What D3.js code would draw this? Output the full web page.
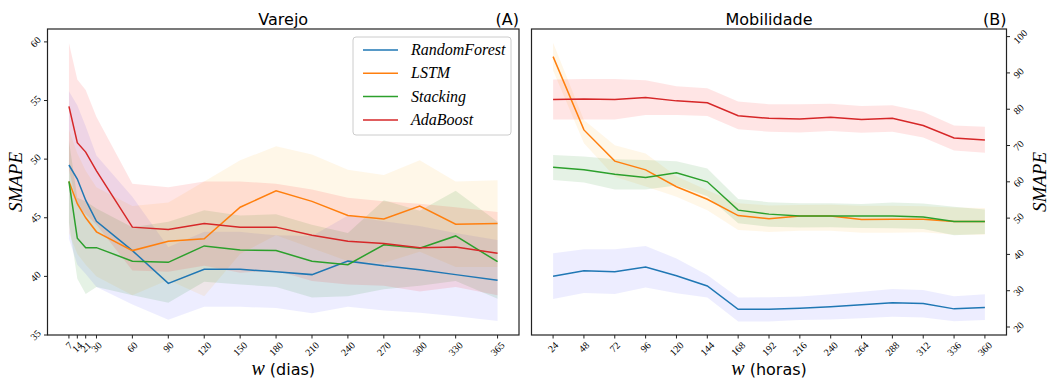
<!DOCTYPE html>
<html>
<head>
<meta charset="utf-8">
<script src="https://cdn.jsdelivr.net/npm/d3@7"></script>
<style>
body { margin: 0; background: #fff; }
svg { display: block; }
.tick-label { font-family: "Liberation Serif", "DejaVu Serif", serif; font-size: 10px; fill: #000; }
.title { font-family: "DejaVu Sans", sans-serif; font-size: 16px; fill: #000; }
.ylab { font-family: "Liberation Serif", serif; font-style: italic; font-size: 19px; }
.leg-text { font-family: "Liberation Serif", serif; font-style: italic; font-size: 16px; }
</style>
</head>
<body>
<svg id="chart" width="1052" height="380"></svg>
<script>

// ---- data: Varejo (dias)
var daysX = [7, 14, 21, 30, 60, 90, 120, 150, 180, 210, 240, 270, 300, 330, 365]
var dayTicks = daysX

var rfVar    = [49.5, 48.3, 46.5, 44.7, 42.2, 39.4, 40.6, 40.6, 40.4, 40.15, 41.3, 40.9, 40.57, 40.15, 39.67]
var rfVarHi  = [55.8, 54.6, 52.8, 50.3, 46.8, 42.5, 43.8, 43.8, 43.5, 43.45, 45.2, 44.7, 44.3, 43.7, 43.1]
var rfVarLo  = [43.2, 41.0, 40.2, 39.1, 37.6, 36.3, 37.4, 37.4, 37.3, 36.85, 37.4, 37.1, 36.9, 36.6, 36.2]

var lstmVar   = [48.1, 46.2, 45.0, 43.8, 42.2, 43.0, 43.2, 45.9, 47.3, 46.4, 45.2, 44.9, 46.0, 44.45, 44.5]
var lstmVarHi = [52.5, 50.5, 49.0, 47.6, 46.0, 46.3, 48.1, 49.9, 51.1, 50.4, 49.1, 48.65, 49.9, 48.1, 48.2]
var lstmVarLo = [43.7, 41.9, 41.0, 40.0, 38.4, 39.7, 38.3, 41.9, 43.5, 42.4, 41.3, 41.15, 42.1, 40.8, 40.8]

var stkVar   = [48.1, 43.25, 42.45, 42.45, 41.3, 41.2, 42.6, 42.25, 42.2, 41.3, 41.0, 42.7, 42.4, 43.45, 41.25]
var stkVarHi = [51.6, 46.7, 46.4, 45.8, 44.2, 44.65, 45.65, 45.2, 45.3, 44.4, 43.7, 46.5, 45.6, 47.3, 44.65]
var stkVarLo = [44.6, 39.8, 38.5, 39.1, 38.4, 37.75, 39.55, 39.3, 39.1, 38.2, 38.3, 38.9, 39.2, 39.6, 38.1]

var adaVar   = [54.5, 51.4, 50.6, 49.0, 44.2, 44.0, 44.5, 44.2, 44.2, 43.5, 43.0, 42.8, 42.45, 42.5, 41.97]
var adaVarHi = [59.9, 56.8, 55.9, 53.6, 47.9, 47.6, 48.1, 48.1, 47.9, 47.4, 46.7, 46.4, 46.2, 45.9, 45.5]
var adaVarLo = [49.1, 46.0, 45.3, 44.4, 40.5, 40.4, 40.9, 40.3, 40.5, 39.6, 39.3, 39.2, 38.7, 39.1, 38.4]

var varTicksY = [35, 40, 45, 50, 55, 60]

// ---- data: Mobilidade (horas)
var hoursX = [24, 48, 72, 96, 120, 144, 168, 192, 216, 240, 264, 288, 312, 336, 360]
var hourTicks = hoursX

var rfMob    = [34.0, 35.5, 35.2, 36.5, 34.1, 31.3, 24.9, 24.9, 25.2, 25.6, 26.1, 26.7, 26.5, 25.0, 25.4]
var rfMobHi  = [40.3, 41.4, 41.4, 42.3, 38.9, 34.3, 28.1, 28.2, 28.4, 29.0, 29.7, 30.5, 30.2, 28.5, 29.0]
var rfMobLo  = [27.7, 29.4, 29.1, 30.9, 29.3, 28.1, 21.5, 21.5, 21.9, 22.1, 22.4, 22.8, 22.6, 21.6, 21.9]

var lstmMob   = [94.5, 74.3, 65.7, 63.3, 58.65, 55.2, 50.7, 49.8, 50.6, 50.6, 49.6, 49.7, 49.7, 49.1, 49.1]
var lstmMobHi = [98.3, 77.0, 70.1, 67.8, 61.5, 57.7, 54.1, 53.5, 53.6, 53.7, 53.4, 53.4, 53.3, 52.9, 52.8]
var lstmMobLo = [90.7, 70.6, 61.4, 58.7, 55.9, 52.2, 46.7, 46.2, 46.5, 46.5, 46.0, 46.0, 46.1, 45.4, 45.4]

var stkMob   = [64.0, 63.3, 62.1, 61.2, 62.5, 60.0, 52.2, 51.1, 50.6, 50.6, 50.6, 50.6, 50.3, 49.1, 49.1]
var stkMobHi = [67.4, 67.0, 66.2, 66.0, 65.7, 63.7, 55.3, 54.4, 54.1, 54.1, 53.9, 54.3, 54.0, 53.1, 52.4]
var stkMobLo = [60.5, 59.8, 57.9, 57.9, 59.0, 56.0, 48.6, 47.6, 47.4, 47.5, 47.3, 47.2, 47.0, 45.3, 45.6]

var adaMob   = [82.7, 82.8, 82.7, 83.2, 82.3, 81.8, 78.2, 77.5, 77.3, 77.8, 77.2, 77.5, 75.5, 72.1, 71.5]
var adaMobHi = [88.2, 88.3, 88.3, 88.0, 86.3, 85.8, 82.1, 81.4, 81.4, 81.5, 80.9, 81.1, 79.3, 75.5, 75.2]
var adaMobLo = [77.2, 77.2, 77.2, 78.4, 78.4, 78.1, 74.5, 73.8, 73.6, 74.0, 73.5, 73.8, 72.2, 68.6, 68.0]

var mobTicksY = [20, 30, 40, 50, 60, 70, 80, 90, 100]

var models = ['RandomForest', 'LSTM', 'Stacking', 'AdaBoost']
var lineColors = ['#1f77b4', '#ff7f0e', '#2ca02c', '#d62728']
var bandColors = ['blue', 'orange', 'green', 'red']
var bandAlpha = [0.07, 0.09, 0.1, 0.1]

var svg = d3.select('#chart')

function panel(opts) {
  var g = svg.append('g')
  var x = d3.scaleLinear().domain(opts.xdom).range([opts.left, opts.right])
  var y = d3.scaleLinear().domain(opts.ydom).range([opts.bottom, opts.top])

  var area = d3.area()
    .x(function(d) { return x(d.x) })
    .y0(function(d) { return y(d.lo) })
    .y1(function(d) { return y(d.hi) })
  var line = d3.line()
    .x(function(d) { return x(d.x) })
    .y(function(d) { return y(d.v) })

  opts.series.forEach(function(s, i) {
    var pts = opts.xs.map(function(xv, j) { return {x: xv, v: s[0][j], hi: s[1][j], lo: s[2][j]} })
    g.append('path').attr('d', area(pts))
      .attr('fill', bandColors[i]).attr('fill-opacity', bandAlpha[i])
  })
  opts.series.forEach(function(s, i) {
    var pts = opts.xs.map(function(xv, j) { return {x: xv, v: s[0][j]} })
    g.append('path').attr('d', line(pts))
      .attr('fill', 'none').attr('stroke', lineColors[i]).attr('stroke-width', 1.5)
  })

  // frame
  g.append('rect')
    .attr('x', opts.left).attr('y', opts.top)
    .attr('width', opts.right - opts.left).attr('height', opts.bottom - opts.top)
    .attr('fill', 'none').attr('stroke', '#222').attr('stroke-width', 1.2)

  // x ticks
  opts.xticks.forEach(function(t) {
    var px = x(t)
    g.append('line').attr('x1', px).attr('x2', px)
      .attr('y1', opts.bottom).attr('y2', opts.bottom + 3.5)
      .attr('stroke', '#222').attr('stroke-width', 1)
    var txt = g.append('text').attr('class', 'tick-label')
      .attr('text-anchor', 'middle').attr('dominant-baseline', 'central').text(t)
    var w = txt.node().getComputedTextLength(), h = 7
    var bh = (w + h) / Math.SQRT2
    txt.attr('transform', 'translate(' + px + ',' + (opts.bottom + 6 + bh / 2) + ') rotate(-45)')
  })

  // y ticks
  var side = opts.ySide
  opts.yticks.forEach(function(t) {
    var py = y(t)
    var x0 = side === 'left' ? opts.left : opts.right
    var dir = side === 'left' ? -1 : 1
    g.append('line').attr('x1', x0).attr('x2', x0 + dir * 3.5)
      .attr('y1', py).attr('y2', py)
      .attr('stroke', '#222').attr('stroke-width', 1)
    var txt = g.append('text').attr('class', 'tick-label')
      .attr('text-anchor', 'middle').attr('dominant-baseline', 'central').text(t)
    var w = txt.node().getComputedTextLength(), h = 7
    var bw = (w + h) / Math.SQRT2
    txt.attr('transform', 'translate(' + (x0 + dir * (6 + bw / 2)) + ',' + py + ') rotate(-45)')
  })

  var cx = (opts.left + opts.right) / 2
  g.append('text').attr('class', 'title').attr('x', cx).attr('y', 25)
    .attr('text-anchor', 'middle').text(opts.title)
  g.append('text').attr('class', 'title').attr('x', opts.right).attr('y', 25)
    .attr('text-anchor', 'end').text(opts.tag)

  // x label
  var xl = g.append('text').attr('x', cx).attr('y', 375).attr('text-anchor', 'middle')
  xl.append('tspan').attr('font-family', 'Liberation Serif, serif').attr('font-style', 'italic')
    .attr('font-size', '20px').text('w')
  xl.append('tspan').attr('font-family', 'DejaVu Sans, sans-serif').attr('font-size', '16px')
    .text(' (' + opts.unit + ')')

  // y label
  var ylx = opts.ySide === 'left' ? 22 : 1046
  g.append('text').attr('class', 'ylab')
    .attr('transform', 'translate(' + ylx + ',' + ((opts.top + opts.bottom) / 2) + ') rotate(-90)')
    .attr('text-anchor', 'middle').text('SMAPE')
}

panel({
  left: 47.5, right: 519, top: 29, bottom: 335,
  xdom: [7 - 17.9, 365 + 17.9], ydom: [35, 61.1],
  xs: daysX, xticks: dayTicks, yticks: varTicksY, ySide: 'left',
  series: [[rfVar, rfVarHi, rfVarLo], [lstmVar, lstmVarHi, lstmVarLo],
           [stkVar, stkVarHi, stkVarLo], [adaVar, adaVarHi, adaVarLo]],
  title: 'Varejo', tag: '(A)', unit: 'dias'
})

panel({
  left: 531.5, right: 1006.5, top: 29, bottom: 335,
  xdom: [24 - 16.8, 360 + 16.8], ydom: [17.8, 102.1],
  xs: hoursX, xticks: hourTicks, yticks: mobTicksY, ySide: 'right',
  series: [[rfMob, rfMobHi, rfMobLo], [lstmMob, lstmMobHi, lstmMobLo],
           [stkMob, stkMobHi, stkMobLo], [adaMob, adaMobHi, adaMobLo]],
  title: 'Mobilidade', tag: '(B)', unit: 'horas'
})

// legend (left panel)
var leg = svg.append('g')
leg.append('rect').attr('x', 353).attr('y', 37).attr('width', 158).attr('height', 98)
  .attr('rx', 3).attr('fill', '#fff').attr('fill-opacity', 0.85)
  .attr('stroke', '#ccc').attr('stroke-width', 1)
models.forEach(function(m, i) {
  var yy = 50 + i * 23.3
  leg.append('line').attr('x1', 363).attr('x2', 398).attr('y1', yy).attr('y2', yy)
    .attr('stroke', lineColors[i]).attr('stroke-width', 1.5)
  leg.append('text').attr('class', 'leg-text').attr('x', 411).attr('y', yy + 5).text(m)
})

</script>
</body>
</html>
